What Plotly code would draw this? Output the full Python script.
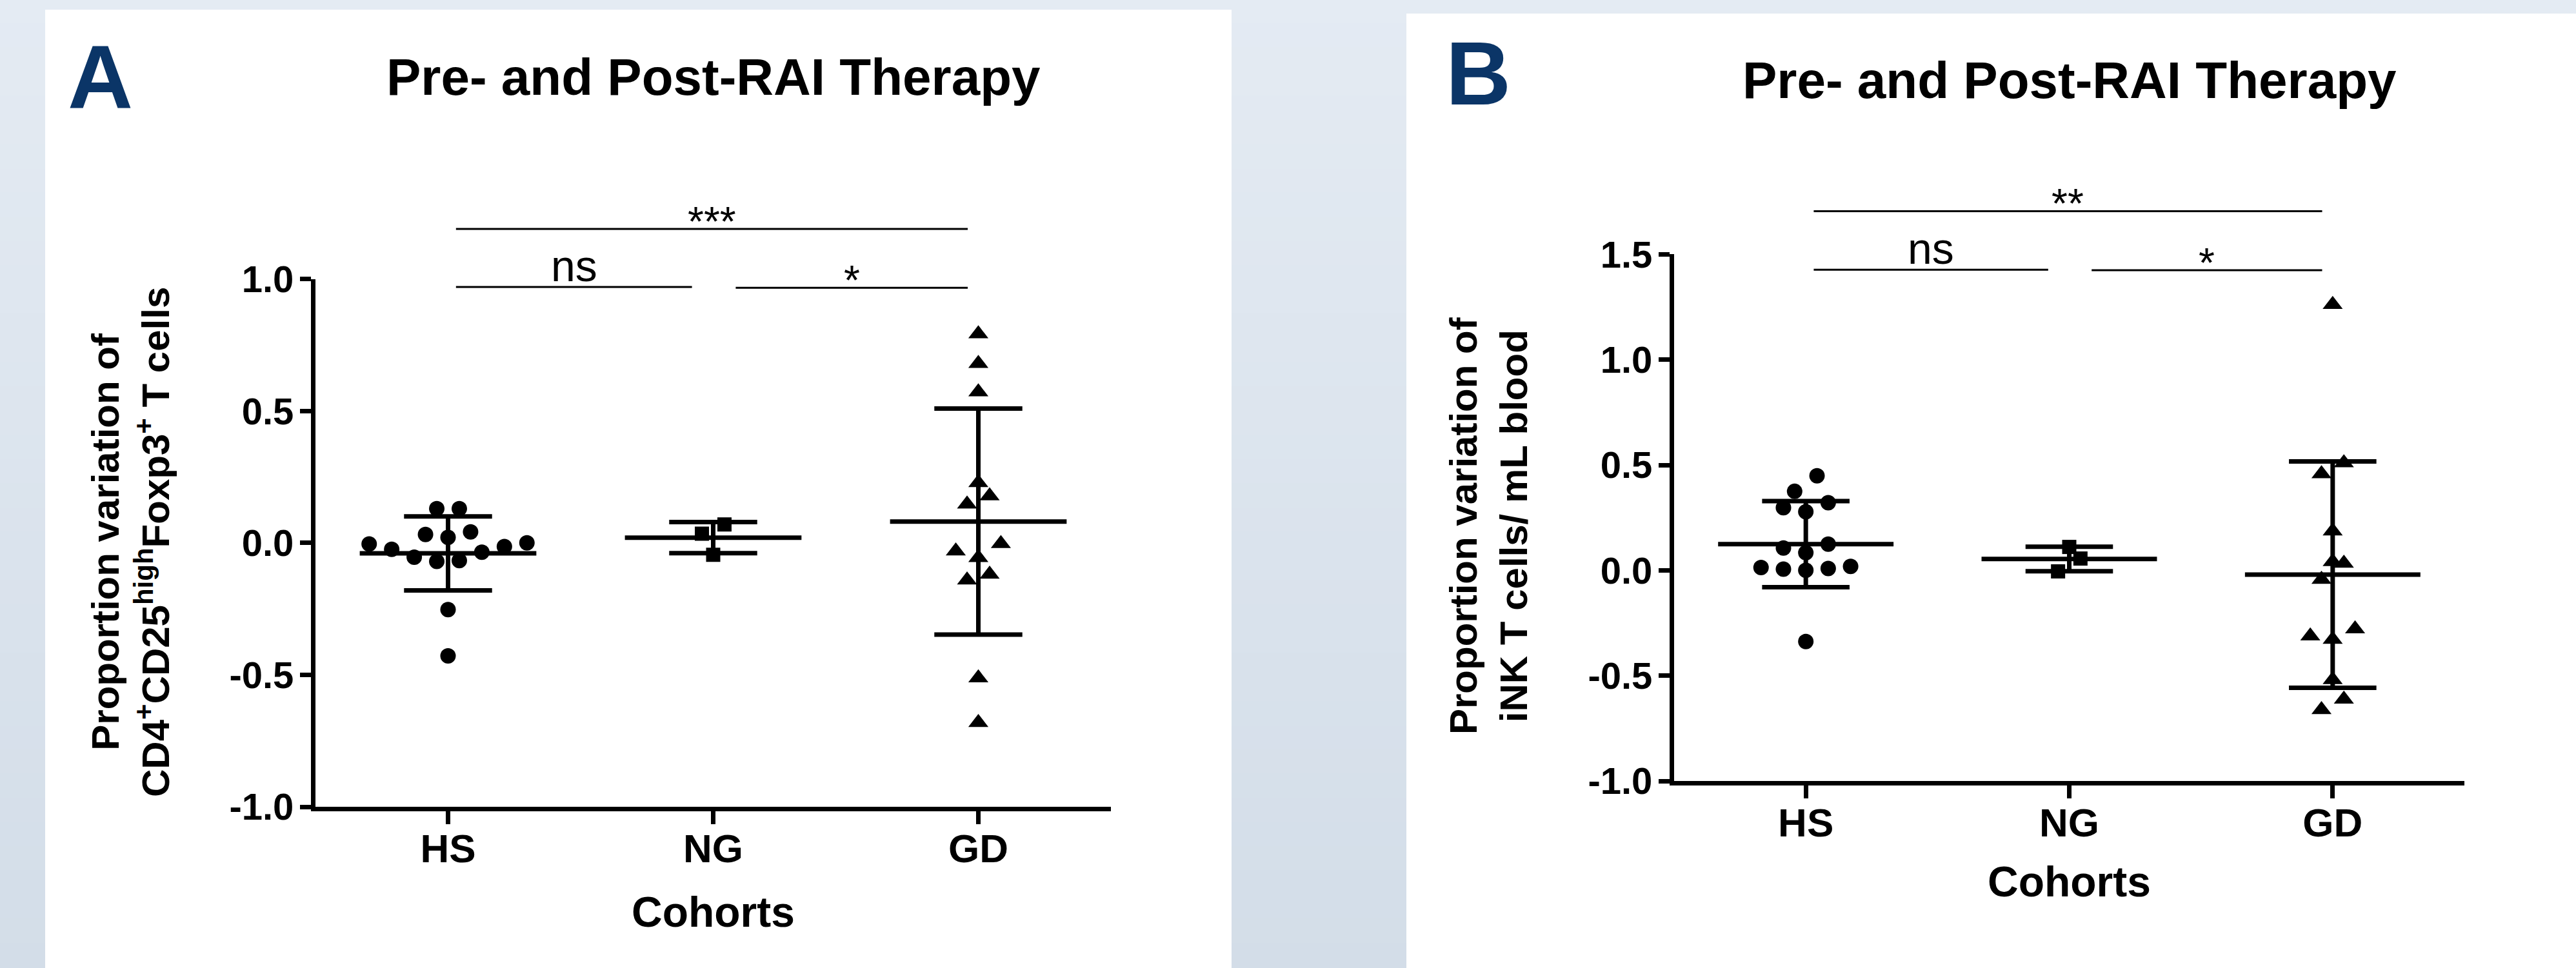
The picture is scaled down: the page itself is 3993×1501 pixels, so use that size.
import numpy as np
import plotly.graph_objects as go

FONT = "Liberation Sans, Arial, Helvetica, sans-serif"

# ---------------- data ----------------
categories = ["HS", "NG", "GD"]

# Panel A: CD4+CD25high Foxp3+ T cells
a_hs = [0.130, 0.130, 0.032, 0.021, 0.042, -0.004, -0.024, -0.054, -0.070,
        -0.067, -0.035, -0.014, 0.000, -0.253, -0.428]
a_ng = [0.070, 0.035, -0.045]
a_gd = [0.792, 0.680, 0.572, 0.228, 0.178, 0.147, -0.031, -0.003, -0.056,
        -0.141, -0.119, -0.512, -0.681]

# Panel B: iNK T cells / mL blood
b_hs = [0.449, 0.375, 0.321, 0.297, 0.278, 0.124, 0.084, 0.106, 0.013,
        0.006, 0.000, 0.009, 0.019, -0.338]
b_ng = [0.111, 0.056, -0.005]
b_gd = [1.262, 0.510, 0.458, 0.186, 0.033, 0.041, -0.043, -0.278, -0.312,
        -0.328, -0.519, -0.612, -0.662]

y_ticks_a = [-1.0, -0.5, 0.0, 0.5, 1.0]
y_ticks_b = [-1.0, -0.5, 0.0, 0.5, 1.0, 1.5]

# (group 1, group 2, label, bar height)
comparisons_a = [("HS", "NG", "ns", 0.97), ("NG", "GD", "*", 0.967), ("HS", "GD", "***", 1.19)]
comparisons_b = [("HS", "NG", "ns", 1.427), ("NG", "GD", "*", 1.425), ("HS", "GD", "**", 1.705)]

panel_letters = ["A", "B"]
panel_titles = ["Pre- and Post-RAI Therapy", "Pre- and Post-RAI Therapy"]
x_title = "Cohorts"
y_titles = [
    "Proportion variation of<br>CD4<sup>+</sup>CD25<sup>high</sup>Foxp3<sup>+</sup> T cells",
    "Proportion variation of<br>iNK T cells/ mL blood",
]

# ---------------- layout parameters ----------------
W, H = 3993, 1501
SYMBOLS = ["circle", "square", "triangle-up"]
SIZES = [24, 22, 27]
MEAN_HW, CAP_HW = 0.333, 0.166
STEP = 0.085

panels = [
    dict(groups=[a_hs, a_ng, a_gd], yticks=y_ticks_a, comps=comparisons_a,
         x0=489, x1=1722, ybot=1251, ytopax=432.7, ytop=1.35, row_h=0.075,
         box=(70, 1909, 15), letter=(155, 120), title_y=120, xtitle_y=1414,
         ytitle=(202, 841)),
    dict(groups=[b_hs, b_ng, b_gd], yticks=y_ticks_b, comps=comparisons_b,
         x0=2595, x1=3820, ybot=1211, ytopax=394.4, ytop=1.85, row_h=0.08,
         box=(2180, W, 21), letter=(2291, 113), title_y=124, xtitle_y=1367,
         ytitle=(2307, 815)),
]


def swarm(values, row_h, step):
    v = np.asarray(values, float)
    order = np.argsort(v, kind="stable")
    rows, cur = [], []
    for idx in order:
        if cur and v[idx] - v[cur[0]] > row_h:
            rows.append(cur)
            cur = []
        cur.append(idx)
    if cur:
        rows.append(cur)
    off = np.zeros(len(v))
    for row in rows:
        n = len(row)
        slots = [0.0] if n % 2 else []
        k = 1.0 if n % 2 else 0.5
        while len(slots) < n:
            slots.append(-k)
            if len(slots) < n:
                slots.append(k)
            k += 1
        for idx, s in zip(row, slots):
            off[idx] = s * step
    return off


fig = go.Figure()
shapes, annotations = [], []

# background gradient
top_c = np.array([228, 235, 243])
bot_c = np.array([211, 221, 232])
NB = 40
for i in range(NB):
    c = top_c + (bot_c - top_c) * (i + 0.5) / NB
    shapes.append(dict(type="rect", xref="paper", yref="paper", x0=0, x1=1,
                       y0=1 - (i + 1) / NB, y1=1 - i / NB + 0.001, layer="below",
                       line=dict(width=0), fillcolor="rgb(%d,%d,%d)" % tuple(c.round())))

layout_axes = {}
for k, P in enumerate(panels):
    xn = "x" if k == 0 else "x2"
    yn = "y" if k == 0 else "y2"
    xo = "x3" if k == 0 else "x4"
    yo = "y3" if k == 0 else "y4"
    ymin, ymax = P["yticks"][0], P["yticks"][-1]

    # white panel
    bx0, bx1, btop = P["box"]
    shapes.append(dict(type="rect", xref="paper", yref="paper", x0=bx0 / W, x1=bx1 / W,
                       y0=0, y1=1 - btop / H, layer="below", line=dict(width=0),
                       fillcolor="white"))

    dom_x = [P["x0"] / W, P["x1"] / W]
    yb = 1 - P["ybot"] / H
    yt = 1 - P["ytopax"] / H
    yt_over = yb + (yt - yb) * (P["ytop"] - ymin) / (ymax - ymin)

    # data points and mean +/- SD
    for gi, vals in enumerate(P["groups"]):
        off = swarm(vals, P["row_h"], STEP)
        fig.add_trace(go.Scatter(
            x=gi + off, y=vals, mode="markers", xaxis=xn, yaxis=yn,
            marker=dict(symbol=SYMBOLS[gi], size=SIZES[gi], color="black",
                        line=dict(width=0)),
            showlegend=False, hoverinfo="skip"))
        m = float(np.mean(vals))
        s = float(np.std(vals, ddof=1))
        xs = [gi - MEAN_HW, gi + MEAN_HW, None, gi, gi, None,
              gi - CAP_HW, gi + CAP_HW, None, gi - CAP_HW, gi + CAP_HW]
        ys = [m, m, None, m - s, m + s, None, m + s, m + s, None, m - s, m - s]
        fig.add_trace(go.Scatter(x=xs, y=ys, mode="lines", xaxis=xn, yaxis=yn,
                                 line=dict(color="black", width=7),
                                 showlegend=False, hoverinfo="skip"))

    # significance bars on overlay axes
    for g1, g2, lab, h in P["comps"]:
        i1, i2 = categories.index(g1), categories.index(g2)
        xa = i1 + (0.03 if i1 == 0 else 0.085)
        xb = i2 - (0.08 if i2 == 1 else 0.04)
        fig.add_trace(go.Scatter(x=[xa, xb], y=[h, h], mode="lines", xaxis=xo, yaxis=yo,
                                 line=dict(color="black", width=3),
                                 showlegend=False, hoverinfo="skip"))
        if lab == "ns":
            annotations.append(dict(text=lab, x=(xa + xb) / 2, y=h, xref=xo, yref=yo,
                                    xanchor="center", yanchor="bottom", yshift=-7,
                                    showarrow=False,
                                    font=dict(family=FONT, size=68, color="black")))
        else:
            annotations.append(dict(text=lab, x=(xa + xb) / 2, y=h, xref=xo, yref=yo,
                                    xanchor="center", yanchor="bottom", yshift=-27,
                                    showarrow=False,
                                    font=dict(family=FONT, size=64, color="black")))

    tick_font = dict(family=FONT, size=58, color="black", weight="bold")
    layout_axes["xaxis" if k == 0 else "xaxis2"] = dict(
        domain=dom_x, range=[-0.5, 2.5], anchor=yn, tickvals=[0, 1, 2], ticktext=categories,
        showline=True, linewidth=7, linecolor="black", ticks="outside", ticklen=20,
        tickwidth=7, tickcolor="black", showgrid=False, zeroline=False,
        tickfont=dict(family=FONT, size=62, color="black", weight="bold"),
        ticklabelstandoff=-15, fixedrange=True)
    layout_axes["yaxis" if k == 0 else "yaxis2"] = dict(
        domain=[yb, yt], range=[ymin, ymax], anchor=xn, tickvals=P["yticks"],
        ticktext=["%.1f" % v for v in P["yticks"]],
        showline=True, linewidth=7, linecolor="black", ticks="outside", ticklen=17,
        tickwidth=7, tickcolor="black", showgrid=False, zeroline=False,
        tickfont=tick_font, ticklabelstandoff=-2, fixedrange=True)
    layout_axes["xaxis3" if k == 0 else "xaxis4"] = dict(
        domain=dom_x, range=[-0.5, 2.5], anchor=yo, visible=False, fixedrange=True)
    layout_axes["yaxis3" if k == 0 else "yaxis4"] = dict(
        domain=[yb, yt_over], range=[ymin, P["ytop"]], anchor=xo, visible=False,
        fixedrange=True)

    # texts
    lx, ly = P["letter"]
    annotations.append(dict(text="<b>%s</b>" % panel_letters[k], x=lx / W, y=1 - ly / H,
                            xref="paper", yref="paper", xanchor="center", yanchor="middle",
                            showarrow=False, font=dict(family=FONT, size=140, color="#0b3567")))
    annotations.append(dict(text="<b>%s</b>" % panel_titles[k], x=0.5, y=1 - P["title_y"] / H,
                            xref=xn + " domain", yref="paper", xanchor="center",
                            yanchor="middle", showarrow=False,
                            font=dict(family=FONT, size=80, color="black")))
    annotations.append(dict(text="<b>%s</b>" % x_title, x=0.5, y=1 - P["xtitle_y"] / H,
                            xref=xn + " domain", yref="paper", xanchor="center",
                            yanchor="middle", showarrow=False,
                            font=dict(family=FONT, size=66, color="black")))
    tx, ty = P["ytitle"]
    annotations.append(dict(text="<b>%s</b>" % y_titles[k], x=tx / W, y=1 - ty / H,
                            xref="paper", yref="paper", xanchor="center", yanchor="middle",
                            textangle=-90, showarrow=False,
                            font=dict(family=FONT, size=60, color="black")))

fig.update_layout(
    width=W, height=H, margin=dict(l=0, r=0, t=0, b=0, pad=0),
    paper_bgcolor="rgb(220,229,238)", plot_bgcolor="rgba(0,0,0,0)",
    template="none", showlegend=False, shapes=shapes, annotations=annotations,
    **layout_axes)

fig.write_html("out.html", config={"displayModeBar": False},
               post_script="document.body.style.margin='0';document.body.style.overflow='hidden';")
